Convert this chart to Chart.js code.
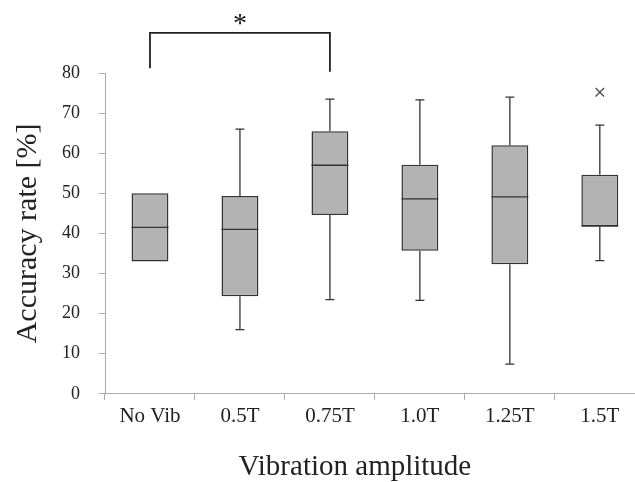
<!DOCTYPE html>
<html>
<head>
<meta charset="utf-8">
<script src="https://cdn.jsdelivr.net/npm/chart.js@4"></script>
<style>
  html, body { margin: 0; padding: 0; background: #fff; overflow: hidden; }
  /* the original figure's axis runs past the right edge, so the canvas does too */
  #wrap { width: 652px; height: 482px; }
</style>
</head>
<body>
<div id="wrap"><canvas id="myChart"></canvas></div>
<script>
// data
const labels = ['No Vib', '0.5T', '0.75T', '1.0T', '1.25T', '1.5T'];
const whiskerLow = [33, 16, 23.5, 23.3, 7.4, 33.2];
const q1 = [33, 24.3, 44.6, 35.7, 32.3, 41.8];
const median = [41.5, 41, 57, 48.6, 49.1, 41.8];
const q3 = [50, 49.3, 65.5, 57.1, 62, 54.6];
const whiskerHigh = [50, 66, 73.5, 73.3, 74, 67];
const outliers = [null, null, null, null, null, 75.2];
const yTicks = [0, 10, 20, 30, 40, 50, 60, 70, 80];
const xTitle = 'Vibration amplitude';
// significance bracket: between category 0 and 2
const sigPair = [0, 2];
const sigLow = [81.2, 80.3];
const sigTop = 90;

const serif = "'Liberation Serif', 'DejaVu Serif', serif";

const boxExtras = {
    id: 'boxExtras',
    afterDatasetsDraw(chart) {
        const c = chart.ctx;
        const x = chart.scales.x;
        const y = chart.scales.y;
        c.save();
        c.strokeStyle = '#333';
        c.lineWidth = 1.3;
        labels.forEach((lab, i) => {
            const cx = x.getPixelForValue(i);
            // whiskers
            c.beginPath();
            if (whiskerHigh[i] > q3[i]) {
                c.moveTo(cx, y.getPixelForValue(q3[i]));
                c.lineTo(cx, y.getPixelForValue(whiskerHigh[i]));
                c.moveTo(cx - 4.5, y.getPixelForValue(whiskerHigh[i]));
                c.lineTo(cx + 4.5, y.getPixelForValue(whiskerHigh[i]));
            }
            if (whiskerLow[i] < q1[i]) {
                c.moveTo(cx, y.getPixelForValue(q1[i]));
                c.lineTo(cx, y.getPixelForValue(whiskerLow[i]));
                c.moveTo(cx - 4.5, y.getPixelForValue(whiskerLow[i]));
                c.lineTo(cx + 4.5, y.getPixelForValue(whiskerLow[i]));
            }
            c.stroke();
            // median
            const meta = chart.getDatasetMeta(0).data[i];
            const half = meta.width / 2;
            c.beginPath();
            c.moveTo(cx - half, y.getPixelForValue(median[i]));
            c.lineTo(cx + half, y.getPixelForValue(median[i]));
            c.stroke();
        });
        // bracket
        const xa = x.getPixelForValue(sigPair[0]);
        const xb = x.getPixelForValue(sigPair[1]);
        c.strokeStyle = '#222';
        c.lineWidth = 1.8;
        c.beginPath();
        c.moveTo(xa, y.getPixelForValue(sigLow[0]));
        c.lineTo(xa, y.getPixelForValue(sigTop));
        c.lineTo(xb, y.getPixelForValue(sigTop));
        c.lineTo(xb, y.getPixelForValue(sigLow[1]));
        c.stroke();
        c.fillStyle = '#111';
        c.font = "28px " + serif;
        c.textAlign = 'center';
        c.textBaseline = 'middle';
        c.fillText('*', (xa + xb) / 2, y.getPixelForValue(sigTop) - 8);
        // x axis title, set slightly left of the axis centre like the original
        const area = chart.chartArea;
        c.fillStyle = '#222';
        c.font = "29px " + serif;
        c.textBaseline = 'alphabetic';
        c.fillText(xTitle, area.left + (area.right - area.left) * 0.463, 475);
        c.restore();
    }
};

const ctx = document.getElementById('myChart').getContext('2d');
const chart = new Chart(ctx, {
    type: 'bar',
    data: {
        labels: labels,
        datasets: [
            {
                label: 'box',
                data: q1.map((v, i) => [v, q3[i]]),
                backgroundColor: '#b3b3b3',
                borderColor: '#333',
                borderWidth: 1.5,
                borderSkipped: false,
                barPercentage: 0.41,
                categoryPercentage: 1.0
            },
            {
                type: 'line',
                label: 'outlier',
                data: outliers,
                showLine: false,
                pointStyle: 'crossRot',
                pointRadius: 6,
                borderColor: '#444',
                borderWidth: 1.2
            }
        ]
    },
    options: {
        responsive: true,
        maintainAspectRatio: false,
        animation: false,
        layout: { padding: { top: 73, right: 0, left: 13, bottom: 49 } },
        plugins: {
            legend: { display: false },
            tooltip: { enabled: false }
        },
        scales: {
            x: {
                offset: true,
                grid: {
                    offset: true,
                    drawOnChartArea: false,
                    drawTicks: true,
                    tickLength: 6,
                    color: '#aaa'
                },
                border: { color: '#aaa' },
                ticks: {
                    color: '#222',
                    font: { family: serif, size: 21 },
                    padding: 4
                },
                title: { display: false }
            },
            y: {
                min: 0,
                max: 80,
                afterBuildTicks: (axis) => { axis.ticks = yTicks.map(v => ({ value: v })); },
                grid: {
                    drawOnChartArea: false,
                    drawTicks: true,
                    tickLength: 6,
                    color: '#aaa'
                },
                border: { color: '#aaa' },
                ticks: {
                    color: '#222',
                    font: { family: serif, size: 18 },
                    padding: 19
                },
                title: {
                    display: true,
                    text: 'Accuracy rate [%]',
                    color: '#222',
                    font: { family: serif, size: 30, lineHeight: 1.0 },
                    padding: { top: 0, bottom: 0 }
                }
            }
        }
    },
    plugins: [boxExtras]
});
</script>
</body>
</html>
